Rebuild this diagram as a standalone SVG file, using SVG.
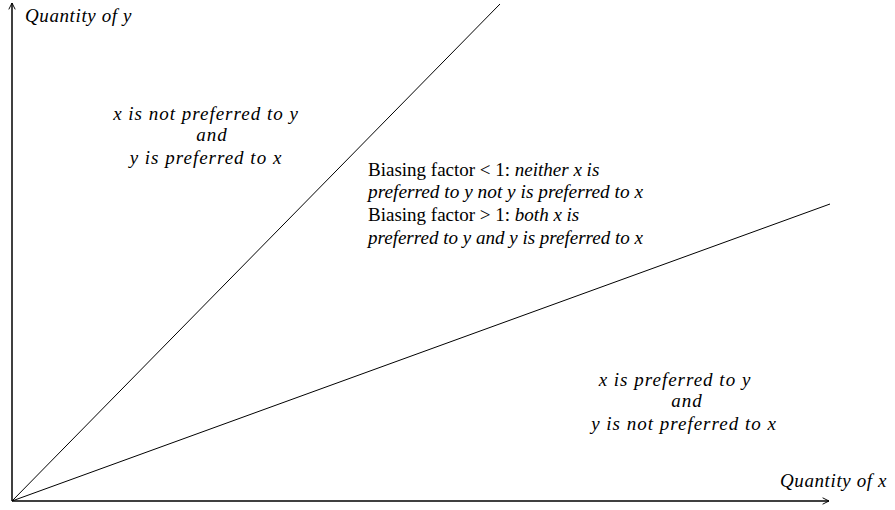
<svg xmlns="http://www.w3.org/2000/svg" width="895" height="510" viewBox="0 0 895 510">
<defs>
<style>
text{font-family:"Liberation Serif","Times New Roman",serif;font-size:19px;fill:#000}
.i{font-style:italic}
.r{font-style:italic;text-anchor:middle;letter-spacing:1px}
.q{font-style:italic;letter-spacing:0.6px}
.ln{stroke:#000;stroke-width:1;fill:none}
.ax{stroke:#000;stroke-width:1.5;fill:none}
</style>
<marker id="ah" viewBox="0 0 10 10" refX="9" refY="5" markerWidth="8" markerHeight="8" markerUnits="userSpaceOnUse" orient="auto">
<path d="M1,1 L9,5 L1,9" fill="none" stroke="#000" stroke-width="1.2"/>
</marker>
</defs>
<rect width="895" height="510" fill="#fff"/>
<g id="connectors">
<line class="ax" x1="12" y1="501" x2="12" y2="3" marker-end="url(#ah)"/>
<line class="ax" x1="12" y1="501" x2="829" y2="501" marker-end="url(#ah)"/>
<line class="ln" x1="12" y1="501" x2="500" y2="4"/>
<line class="ln" x1="12" y1="501" x2="830" y2="204"/>
</g>
<g id="label-y"><text class="q" x="25" y="22">Quantity of y</text></g>
<g id="label-x"><text class="q" x="780" y="487">Quantity of x</text></g>
<g id="region-upper">
<text class="r" x="206" y="120">x is not preferred to y</text>
<text class="r" x="212" y="141">and</text>
<text class="r" x="206" y="164">y is preferred to x</text>
</g>
<g id="region-middle">
<text x="368" y="176">Biasing factor &lt; 1: <tspan class="i">neither x is</tspan></text>
<text class="i" x="368" y="198" textLength="275" lengthAdjust="spacingAndGlyphs">preferred to y not y is preferred to x</text>
<text x="368" y="221">Biasing factor &gt; 1: <tspan class="i">both x is</tspan></text>
<text class="i" x="368" y="244" textLength="275" lengthAdjust="spacingAndGlyphs">preferred to y and y is preferred to x</text>
</g>
<g id="region-lower">
<text class="r" x="675" y="386">x is preferred to y</text>
<text class="r" x="687" y="407">and</text>
<text class="r" x="684" y="430">y is not preferred to x</text>
</g>
</svg>
